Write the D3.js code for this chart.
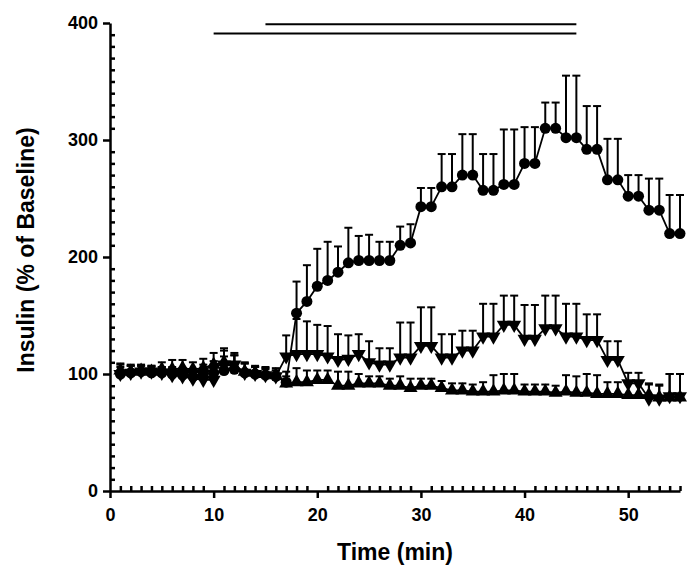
<!DOCTYPE html>
<html><head><meta charset="utf-8">
<script src="https://cdn.jsdelivr.net/npm/d3@7"></script>
<style>body{margin:0;background:#fff}</style>
</head><body><div id="chart"></div>
<script>
const minutes = d3.range(1, 56);
const circleVals = [100,101,102,101,101,100,99,98,100,101,103,104,101,100,99,98,93,
  152,162,175,180,187,195,197,197,197,197,210,212,243,243,260,260,270,270,257,257,262,262,280,280,310,310,302,302,292,292,266,266,252,252,240,240,220,220];
const circleErr = [8,7,5,5,5,6,6,6,8,10,12,12,8,6,6,5,5,
  27,31,32,33,22,30,21,22,16,16,16,16,16,16,28,28,35,35,31,31,47,47,31,31,22,22,53,53,37,37,35,35,18,18,27,27,33,33];
const downVals = [100,101,102,102,101,99,98,96,95,95,108,108,101,100,99,98,115,
  117,117,117,115,112,113,117,110,108,108,114,114,124,124,114,114,120,120,132,132,142,142,130,130,139,139,132,132,129,129,112,112,92,92,79,79,81,81];
const downErr = [6,6,5,5,5,6,6,6,8,10,12,10,8,6,5,5,18,
  30,28,25,26,22,20,17,18,14,14,30,30,33,33,20,20,17,17,28,28,25,25,29,29,28,28,28,28,22,22,16,16,9,9,12,12,19,19];
const upVals = [103,102,103,102,104,104,105,104,105,108,110,106,102,101,100,99,92,
  93,93,95,95,90,90,92,92,92,90,90,88,90,90,88,86,86,85,85,85,86,86,85,85,85,84,85,84,84,83,83,83,82,82,82,80,80,80];
const upErr = [6,5,5,5,6,8,7,6,8,10,12,10,8,6,6,6,10,
  12,10,8,8,12,12,8,6,6,6,8,8,6,6,6,6,6,6,8,14,14,14,6,6,6,6,14,14,16,16,10,10,12,12,10,10,20,20];
const barStart = [15, 10];
const barEnd = [45, 45];
const barLevel = [399, 391];
const yTicks = [0, 100, 200, 300, 400];
const xTicks = [0, 10, 20, 30, 40, 50];

const svg = d3.select("#chart").append("svg").attr("width", 693).attr("height", 570);
const x = d3.scaleLinear().domain([0, 55]).range([110, 680]);
const y = d3.scaleLinear().domain([0, 400]).range([491, 23]);
const font = "Liberation Sans, Arial, sans-serif";

// axes
const yAxis = svg.append("g").attr("transform", "translate(110,0)")
  .call(d3.axisLeft(y).tickValues(yTicks).tickSize(7).tickSizeOuter(0));
yAxis.selectAll("text").attr("font-family", font).attr("font-weight", "bold").attr("font-size", 18).attr("dx", -2);
svg.append("g").attr("transform", "translate(110,0)")
  .call(d3.axisRight(y).tickValues(d3.range(10, 400, 10).filter(v => v % 100)).tickSize(5).tickFormat("").tickSizeOuter(0))
  .select(".domain").remove();
const xAxis = svg.append("g").attr("transform", "translate(0,491)")
  .call(d3.axisBottom(x).tickValues(xTicks).tickSize(7).tickSizeOuter(0));
xAxis.selectAll("text").attr("font-family", font).attr("font-weight", "bold").attr("font-size", 18).attr("dy", "1.1em");
svg.append("g").attr("transform", "translate(0,491)")
  .call(d3.axisTop(x).tickValues(d3.range(1, 56).filter(v => v % 10)).tickSize(5).tickFormat("").tickSizeOuter(0))
  .select(".domain").remove();
svg.selectAll(".domain, .tick line").attr("stroke", "#000").attr("stroke-width", 2.5);

svg.append("text").attr("x", 395).attr("y", 560).attr("text-anchor", "middle")
  .attr("font-family", font).attr("font-weight", "bold").attr("font-size", 23).text("Time (min)");
svg.append("text").attr("transform", "translate(34,250) rotate(-90)").attr("text-anchor", "middle")
  .attr("font-family", font).attr("font-weight", "bold").attr("font-size", 23).text("Insulin (% of Baseline)");

// treatment bars
barStart.forEach((s, i) => {
  svg.append("line").attr("x1", x(s)).attr("x2", x(barEnd[i])).attr("y1", y(barLevel[i])).attr("y2", y(barLevel[i]))
    .attr("stroke", "#000").attr("stroke-width", 2);
});

const series = [
  {vals: upVals, err: upErr, shape: "up"},
  {vals: downVals, err: downErr, shape: "down"},
  {vals: circleVals, err: circleErr, shape: "circle"}
];
const line = d3.line().x((d, i) => x(minutes[i])).y(d => y(d));
series.forEach(s => {
  const g = svg.append("g");
  s.vals.forEach((v, i) => {
    const top = y(v + s.err[i]);
    g.append("line").attr("x1", x(minutes[i])).attr("x2", x(minutes[i])).attr("y1", y(v)).attr("y2", top).attr("stroke", "#000").attr("stroke-width", 2);
    g.append("line").attr("x1", x(minutes[i]) - 4).attr("x2", x(minutes[i]) + 4).attr("y1", top).attr("y2", top).attr("stroke", "#000").attr("stroke-width", 2);
  });
  g.append("path").datum(s.vals).attr("d", line).attr("fill", "none").attr("stroke", "#000").attr("stroke-width", 1.8);
  s.vals.forEach((v, i) => {
    const cx = x(minutes[i]), cy = y(v);
    if (s.shape === "circle") g.append("circle").attr("cx", cx).attr("cy", cy).attr("r", 5.5);
    else {
      const sym = d3.symbol().type(d3.symbolTriangle).size(85);
      g.append("path").attr("d", sym).attr("transform", `translate(${cx},${cy}) rotate(${s.shape === "down" ? 180 : 0})`);
    }
  });
});
</script></body></html>
